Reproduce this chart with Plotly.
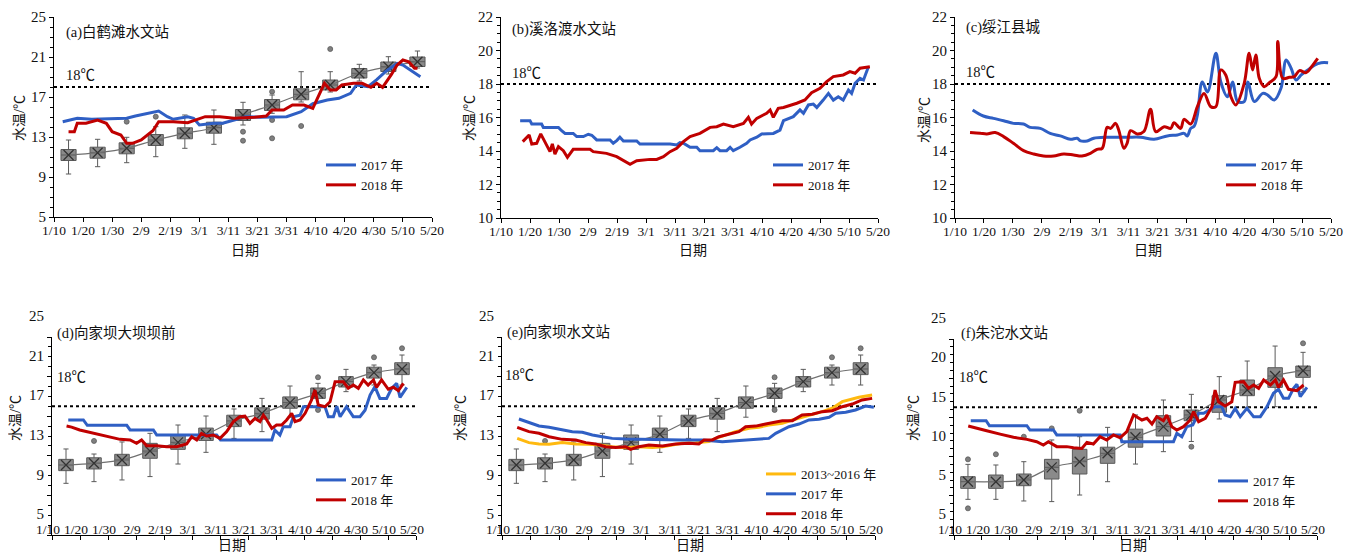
import plotly.graph_objects as go

# The page places the figure 8 px from the window's top-left corner, so the figure is
# 8 px smaller than the window and all positions below are given in window pixels.
OFF = 8
W, H = 1359 - OFF, 552 - OFF
FONT = "Liberation Serif, 'Noto Sans CJK SC', serif"
BLUE, RED, ORANGE = "#2F5FC4", "#C00000", "#FFB90F"


def px(x):
    return (x - OFF) / W


def py(y):
    return 1 - (y - OFF) / H


TICK_DAYS = list(range(0, 131, 10))
TICK_TEXT = ["1/10", "1/20", "1/30", "2/9", "2/19", "3/1", "3/11", "3/21",
             "3/31", "4/10", "4/20", "4/30", "5/10", "5/20"]
BOX_DAYS = list(range(5, 126, 10))   # days after 1/10

# ---------------- (a) 白鹤滩水文站 ----------------
a_2017_day = [3, 8, 13, 19, 25, 28, 32, 36, 39, 41, 46, 48, 50, 55, 58, 62, 66, 71, 75, 80,
              85, 89, 94, 98, 102, 104, 108, 111, 114, 118, 120, 124, 126]
a_2017_val = [14.53, 14.87, 14.77, 14.8, 14.87, 15.1, 15.37, 15.6, 15.03, 14.77, 15.03, 14.87,
              14.2, 14.37, 14.37, 14.7, 15.03, 14.97, 15.03, 15.03, 15.53, 16.33, 16.7, 16.87,
              17.37, 18.2, 18.03, 18.73, 19.53, 20.37, 20.2, 19.43, 19.03]
a_2018_day = [5, 7, 8, 11, 15, 18, 20, 23, 25, 27, 30, 32, 34, 36, 41, 46, 49, 52, 57, 62, 69,
              73, 75, 79, 82, 86, 89, 91, 93, 95, 97, 99, 103, 106, 109, 111, 113, 116, 118,
              120, 122, 124, 125]
a_2018_val = [13.53, 13.53, 14.37, 14.37, 14.7, 14.37, 13.53, 13.2, 12.37, 12.37, 12.7, 13.2,
              13.63, 14.53, 14.53, 14.43, 14.7, 15.03, 15.03, 14.87, 14.97, 15.1, 15.7, 15.7,
              16.2, 16.2, 15.87, 17.2, 18.37, 17.7, 17.7, 18.2, 18.37, 18.37, 17.97, 18.37,
              17.97, 19.23, 20.2, 20.7, 20.53, 19.87, 19.87]
a_mean = [11.2, 11.43, 11.87, 12.7, 13.37, 13.93, 15.2, 16.2, 17.27, 18.2, 19.37, 20.03, 20.53]
a_q1 = [10.65, 10.88, 11.32, 12.15, 12.82, 13.38, 14.65, 15.65, 16.72, 17.7, 18.9, 19.55, 20.05]
a_q3 = [11.75, 11.98, 12.42, 13.25, 13.92, 14.48, 15.75, 16.75, 17.82, 18.7, 19.85, 20.5, 21.0]
a_hi = [12.7, 12.77, 12.97, 14.03, 15.2, 15.7, 16.47, 17.2, 19.53, 19.53, 20.27, 21.03, 21.6]
a_lo = [9.3, 10.03, 10.43, 11.03, 11.87, 12.27, 14.2, 15.37, 16.5, 17.5, 18.6, 19.3, 19.9]
a_out_day = [25, 35, 65, 65, 75, 75, 75, 85, 95]
a_out_val = [14.53, 15.03, 13.53, 12.63, 17.53, 14.7, 12.87, 14.1, 21.8]

# ---------------- (b) 溪洛渡水文站 ----------------
b_2017_day = [6.6, 10, 10.6, 14, 14.6, 19.8, 20.9, 22.1, 24.9, 26.1, 28.4, 30.1, 31.3, 33,
              37.6, 38.7, 39.9, 41, 42.2, 46.8, 47.9, 58.3, 60.6, 61.7, 62.9, 65.2, 67.5, 68.6,
              73.2, 74.4, 75.5, 77.8, 79, 80.1, 82.4, 84.7, 85.9, 88.2, 89.9, 93.9, 96.2, 97.4,
              100.8, 103.1, 104.3, 106, 107.7, 108.9, 111.1, 112.9, 114.6, 116.3, 118, 119.8,
              120.9, 122.1, 123.8, 125, 126.7]
b_2017_val = [15.81, 15.81, 15.61, 15.61, 15.41, 15.41, 15.21, 15.05, 15.05, 14.86, 14.86,
              15.0, 14.94, 14.66, 14.66, 14.46, 14.62, 14.82, 14.6, 14.6, 14.42, 14.42, 14.36,
              14.5, 14.46, 14.22, 14.22, 14.02, 14.02, 14.2, 14.02, 14.02, 14.22, 14.02, 14.22,
              14.46, 14.66, 14.82, 15.02, 15.05, 15.25, 15.81, 16.05, 16.45, 16.25, 16.75, 16.8,
              16.6, 17.04, 17.44, 17.04, 17.24, 17.04, 17.64, 17.44, 18.04, 18.34, 18.24, 19.03]
b_2018_day = [7.5, 9.7, 10.6, 12.3, 13.7, 15.2, 16.9, 17.7, 18.6, 19.8, 21.5, 22.9, 24.9, 30.7,
              31.8, 36.4, 39.9, 44.5, 46.8, 51.4, 53.7, 56, 58.3, 60.6, 62.9, 65.2, 68.6, 72.1,
              74.4, 76.7, 80.1, 83.6, 85.3, 86.4, 88.2, 91.6, 92.8, 93.9, 95.6, 97.4, 102, 104.8,
              107.1, 110, 112.3, 114.6, 118, 120.3, 122.1, 123.8, 127.2]
b_2018_val = [14.56, 14.96, 14.42, 14.46, 15.02, 14.56, 13.96, 14.42, 13.82, 14.26, 14.02,
              13.62, 14.1, 14.1, 13.96, 13.86, 13.66, 13.2, 13.42, 13.5, 13.5, 13.66, 13.96,
              14.16, 14.56, 14.86, 15.05, 15.41, 15.45, 15.61, 15.45, 15.65, 16.01, 15.61, 15.95,
              16.25, 16.45, 16.01, 16.55, 16.6, 16.85, 17.05, 17.48, 17.74, 18.14, 18.44, 18.54,
              18.74, 18.64, 18.94, 19.03]

# ---------------- (c) 绥江县城 ----------------
c_2017_day = [6.1, 9.8, 13.3, 16.8, 20.2, 23.7, 26, 29.5, 32.9, 36.4, 39.9, 42.2, 43.4, 45.7,
              48, 52.6, 59.5, 64.2, 68.8, 73.4, 76.9, 79.2, 80.3, 81.5, 82.7, 83.8, 85.5, 87.3,
              90.2, 91.9, 94.2, 96, 97.7, 100, 101.2, 103.5, 106.4, 108.1, 110.4, 112.7, 114.5,
              116.2, 117.9, 119.7, 122, 124.3, 126.6, 129]
c_2017_val = [16.45, 16.09, 15.95, 15.81, 15.65, 15.61, 15.41, 15.35, 15.05, 14.9, 14.7, 14.76,
              14.6, 14.6, 14.76, 14.82, 14.82, 14.82, 14.7, 14.9, 14.96, 15.05, 14.9, 15.35,
              15.49, 16.15, 18.12, 17.52, 19.83, 18.12, 17.24, 18.12, 16.95, 16.95, 18.12, 16.95,
              17.44, 17.34, 17.04, 17.74, 19.43, 18.94, 18.24, 18.54, 18.84, 19.13, 19.27, 19.27]
c_2018_day = [5.2, 8.7, 11, 13.9, 16.8, 20.2, 23.7, 27.2, 30.6, 34.1, 37.6, 41, 43.9, 46.8,
              49.1, 50.9, 52.6, 53.8, 55.5, 56.6, 58.4, 59.5, 60.7, 63, 65.3, 67.6, 69.4, 72.3,
              74.6, 75.7, 78, 79.2, 81.5, 83.8, 86.1, 88.4, 90.2, 91.9, 93.6, 95.4, 97.1, 100,
              101.7, 102.9, 104, 105.2, 106.9, 108.7, 111, 111.6, 113.3, 115.6, 117.3, 119.1,
              121.4, 123.7, 125.4]
c_2018_val = [15.1, 15.06, 15.02, 15.1, 14.86, 14.46, 14.02, 13.82, 13.7, 13.7, 13.82, 13.76,
              13.7, 13.86, 14.1, 14.16, 15.41, 15.35, 15.65, 15.25, 14.16, 14.46, 15.21, 15.02,
              15.16, 16.49, 15.15, 15.45, 15.35, 15.69, 15.35, 15.89, 15.61, 16.65, 17.44, 16.65,
              16.65, 18.84, 18.54, 17.24, 16.75, 18.04, 19.83, 18.84, 19.73, 18.34, 17.84, 18.08,
              18.44, 20.53, 18.34, 18.4, 18.44, 18.8, 18.68, 19.13, 19.53]

# ---------------- (d) 向家坝大坝坝前 ----------------
d_2017_day = [5.8, 11.2, 12.6, 26.7, 27.9, 36.2, 37.4, 58.8, 60.2, 78.5, 79.6, 81.4, 82.6, 85,
              86.2, 88.6, 89.8, 97.5, 98.7, 100.5, 101.7, 102.9, 105.2, 107.6, 110, 111.8, 113.6,
              115.3, 117.1, 119.5, 121.3, 123.1, 124.3, 126.7]
d_2017_val = [16.62, 16.62, 16.08, 16.08, 15.61, 15.61, 15.1, 15.1, 14.6, 14.6, 15.61, 15.1,
              15.94, 15.94, 16.95, 17.1, 17.96, 17.96, 16.95, 16.95, 18.0, 16.95, 17.96, 16.95,
              16.95, 17.6, 19.14, 19.98, 18.8, 18.8, 19.82, 20.32, 18.91, 19.92]
d_2018_day = [5.2, 7, 9.9, 13.6, 17.1, 20.7, 24.3, 27.9, 30.2, 32, 33.8, 37.4, 41, 44.5, 48.1,
              49.9, 51.7, 53.4, 55.2, 57.6, 60, 62.4, 64.8, 67.1, 68.9, 70.7, 72.5, 74.3, 75.5,
              76.7, 78.5, 80.2, 82, 83.8, 85.6, 86.8, 88.6, 90.4, 92.7, 93.9, 95.1, 97.5, 99.3,
              101.1, 104, 105.8, 107.6, 109.4, 111.2, 112.9, 114.8, 115.9, 117.7, 120.1, 121.9,
              123.7, 125.5]
d_2018_val = [16.01, 15.9, 15.61, 15.37, 15.1, 14.87, 14.66, 14.6, 14.26, 14.6, 14.02, 14.02,
              13.92, 13.92, 14.2, 14.93, 14.6, 15.27, 15.0, 15.1, 14.76, 15.44, 16.45, 16.95,
              17.0, 16.28, 16.78, 16.45, 17.11, 16.62, 15.77, 16.11, 16.11, 16.62, 17.29, 16.45,
              16.62, 17.29, 18.64, 19.65, 18.13, 17.96, 18.46, 20.49, 20.49, 19.82, 20.15, 19.82,
              20.66, 20.15, 20.66, 19.92, 20.66, 19.72, 19.92, 19.58, 20.32]
# historical boxes at 向家坝 (shared by d and e)
x_mean = [12.07, 12.24, 12.58, 13.48, 14.36, 15.17, 16.52, 17.29, 18.37, 19.31, 20.49, 21.4, 21.77]
x_q1 = [11.5, 11.67, 12.0, 12.75, 13.65, 14.55, 15.95, 16.7, 17.8, 18.8, 19.95, 20.85, 21.2]
x_q3 = [12.64, 12.8, 13.15, 14.26, 15.1, 15.8, 17.1, 17.85, 18.95, 19.85, 21.0, 21.95, 22.4]
x_hi = [13.69, 13.18, 14.4, 15.27, 16.11, 17.02, 17.73, 18.8, 20.05, 20.32, 21.73, 22.17, 23.18]
x_lo = [10.22, 10.39, 10.56, 10.9, 12.17, 13.35, 14.76, 15.44, 16.9, 17.9, 19.48, 20.15, 20.15]
x_out_day = [15, 95, 95, 115, 125]
x_out_val = [14.5, 20.93, 17.63, 22.95, 23.86]

# ---------------- (e) 向家坝水文站 ----------------
e_hist_day = [5.3, 9.4, 12.9, 16.4, 21, 25.7, 30.3, 33.8, 38.4, 43.1, 47.7, 52.4, 55.9, 59.3,
              62.8, 67.5, 72.1, 74.5, 77.9, 81.4, 86.1, 89.5, 93, 97.7, 101.2, 104.6, 108.1,
              111.6, 115.1, 118.6, 124.4, 129]
e_hist_val = [14.76, 14.33, 14.2, 14.17, 14.33, 14.2, 14.17, 14.1, 13.92, 13.82, 13.92, 13.85,
              13.92, 14.1, 14.26, 14.33, 14.43, 14.76, 15.1, 15.44, 15.77, 15.88, 16.11, 16.28,
              16.62, 16.89, 17.12, 17.46, 17.8, 18.47, 18.91, 19.14]
e_2017_day = [5.9, 9.4, 12.9, 16.4, 19.9, 24.5, 28, 31.5, 35, 38.4, 43.1, 48.9, 53.5, 62.8,
              69.8, 74.5, 76.8, 80.3, 86.1, 90.7, 93, 95.4, 97.7, 100, 103.5, 107, 110.5, 114,
              116.3, 119.8, 123.2, 126.7, 129.6]
e_2017_val = [16.72, 16.35, 16.01, 15.88, 15.67, 15.44, 15.37, 15.1, 14.93, 14.76, 14.7, 14.66,
              14.6, 14.6, 14.6, 14.53, 14.43, 14.5, 14.6, 14.66, 14.76, 15.27, 15.6, 15.94,
              16.21, 16.62, 16.7, 16.89, 17.29, 17.4, 17.63, 18.03, 17.9]
e_2018_day = [5.3, 9.4, 12.9, 16.4, 21, 25.7, 29.2, 32.6, 36.1, 39.6, 43.1, 44.8, 47.7, 51.2,
              55.9, 60.5, 65.2, 68.6, 70.4, 73.3, 75.6, 79.1, 82.6, 84.9, 88.4, 91.9, 95.4, 97.7,
              101.2, 104.6, 108.1, 111.6, 115.1, 118.6, 122.1, 125.5, 129]
e_2018_val = [15.88, 15.44, 15.27, 14.93, 14.66, 14.6, 14.33, 14.2, 13.92, 13.85, 13.92, 13.65,
              13.92, 14.1, 14.0, 14.2, 14.26, 14.2, 14.6, 14.6, 14.93, 15.2, 15.44, 15.94, 16.0,
              16.21, 16.45, 16.55, 16.55, 17.12, 17.2, 17.46, 17.56, 17.96, 18.23, 18.64, 18.8]

# ---------------- (f) 朱沱水文站 ----------------
f_2017_day = [6, 11.5, 12.7, 26.1, 27.2, 35.6, 36.8, 59.5, 60.1, 78.6, 79.8, 81.6, 83.4, 85.5,
              87.6, 89.4, 93.5, 95.9, 97.1, 98.9, 100.7, 102.5, 104.9, 107.3, 109.7, 112.1,
              114.4, 116.2, 118, 119.8, 121.6, 122.8, 124, 126.4]
f_2017_val = [14.58, 14.58, 13.94, 13.94, 13.39, 13.39, 12.76, 12.76, 11.9, 11.9, 12.97, 12.54,
              13.82, 14.03, 15.52, 15.52, 16.37, 16.37, 15.31, 15.09, 16.15, 15.09, 16.15, 15.09,
              15.09, 16.37, 18.07, 18.58, 17.43, 17.43, 18.71, 19.22, 17.64, 18.83]
f_2018_day = [5.1, 8.1, 11.7, 16.5, 21.3, 26.1, 29.6, 32, 33.8, 36.8, 40.4, 42.8, 45.8, 47.6,
              49.9, 52.3, 54.7, 57.1, 59.5, 61.9, 64.3, 67.3, 69.1, 70.9, 72.6, 75, 76.2, 78,
              79.8, 82.2, 84.6, 85.8, 87.6, 90, 92.4, 93.5, 94.7, 97.1, 99.5, 100.7, 103.7, 105.5,
              107.3, 109.1, 110.9, 113.3, 115.1, 116.2, 118, 119.8, 122.8, 125.2]
f_2018_val = [13.9, 13.6, 13.3, 12.87, 12.46, 12.2, 11.9, 11.48, 11.9, 11.27, 11.27, 11.14,
              11.05, 11.82, 11.6, 12.54, 12.12, 12.76, 12.41, 13.18, 15.31, 14.67, 14.88, 14.16,
              15.09, 14.58, 15.31, 13.82, 13.39, 13.82, 14.67, 15.73, 14.46, 14.88, 16.37, 18.49,
              17.0, 16.46, 17.0, 19.47, 19.56, 18.71, 19.13, 18.71, 19.77, 19.13, 19.77, 18.83,
              19.77, 18.58, 18.41, 19.13]
f_mean = [6.8, 6.8, 7.02, 8.63, 9.35, 10.42, 12.46, 13.82, 15.31, 17.22, 18.49, 20.28, 20.96]
f_q1 = [5.95, 5.95, 6.29, 7.14, 7.78, 9.14, 11.2, 12.63, 14.58, 15.65, 17.77, 18.83, 20.11]
f_q3 = [7.44, 7.65, 7.78, 9.65, 10.93, 11.2, 13.5, 15.22, 15.94, 17.77, 19.77, 21.34, 21.55]
f_hi = [9.01, 8.93, 9.35, 12.12, 12.54, 13.73, 15.31, 17.22, 17.94, 20.2, 22.19, 24.1, 23.3]
f_lo = [4.55, 4.55, 4.34, 4.26, 5.1, 6.8, 9.05, 10.63, 11.93, 14.8, 16.28, 16.37, 18.28]
f_out_day = [5, 5, 15, 25, 35, 45, 85, 125]
f_out_val = [9.65, 3.4, 10.3, 12.54, 13.6, 15.85, 11.26, 24.45]

THRESH = [18, 18, 18, 18, 18, 16.3]   # dotted "18℃" line, as drawn in each panel

# ---------------- layout geometry (window pixels) ----------------
panels = [
    dict(t="(a)白鹤滩水文站", x0=54, x1=432, yt=17, yb=217, yr=[5, 25],
         tpos=(64, 33), l18=(64, 75), yt_pos=(20, 118), xt_pos=(245, 250), leg=(321, 150)),
    dict(t="(b)溪洛渡水文站", x0=501, x1=878, yt=17, yb=218, yr=[10, 22],
         tpos=(510, 30), l18=(510, 73), yt_pos=(470, 118), xt_pos=(693, 250), leg=(768, 150)),
    dict(t="(c)绥江县城", x0=955, x1=1331, yt=17, yb=218, yr=[10, 22],
         tpos=(964, 28), l18=(964, 72), yt_pos=(925, 120), xt_pos=(1148, 250), leg=(1221, 150)),
    dict(t="(d)向家坝大坝坝前", x0=52, x1=416, yt=337, yb=535, yr=[5, 25],
         tpos=(55, 333), l18=(55, 377), yt_pos=(15, 418), xt_pos=(232, 545), leg=(311, 465)),
    dict(t="(e)向家坝水文站", x0=502, x1=875, yt=337, yb=535, yr=[5, 25],
         tpos=(505, 332), l18=(503, 375), yt_pos=(460, 418), xt_pos=(690, 545), leg=(761, 459)),
    dict(t="(f)朱沱水文站", x0=954, x1=1317, yt=339, yb=535, yr=[0, 25],
         tpos=(959, 333), l18=(957, 377), yt_pos=(913, 418), xt_pos=(1133, 545), leg=(1213, 466)),
]

series = [
    [("2017 年", BLUE, a_2017_day, a_2017_val, "linear"), ("2018 年", RED, a_2018_day, a_2018_val, "linear")],
    [("2017 年", BLUE, b_2017_day, b_2017_val, "linear"), ("2018 年", RED, b_2018_day, b_2018_val, "linear")],
    [("2017 年", BLUE, c_2017_day, c_2017_val, "spline"), ("2018 年", RED, c_2018_day, c_2018_val, "spline")],
    [("2017 年", BLUE, d_2017_day, d_2017_val, "linear"), ("2018 年", RED, d_2018_day, d_2018_val, "linear")],
    [("2013~2016 年", ORANGE, e_hist_day, e_hist_val, "linear"), ("2017 年", BLUE, e_2017_day, e_2017_val, "linear"),
     ("2018 年", RED, e_2018_day, e_2018_val, "linear")],
    [("2017 年", BLUE, f_2017_day, f_2017_val, "linear"), ("2018 年", RED, f_2018_day, f_2018_val, "linear")],
]
boxes = [
    (a_mean, a_q1, a_q3, a_lo, a_hi, a_out_day, a_out_val),
    None,
    None,
    (x_mean, x_q1, x_q3, x_lo, x_hi, x_out_day, x_out_val),
    (x_mean, x_q1, x_q3, x_lo, x_hi, x_out_day, x_out_val),
    (f_mean, f_q1, f_q3, f_lo, f_hi, f_out_day, f_out_val),
]

fig = go.Figure()
annotations, shapes = [], []
BOX_FILL, BOX_LINE, MEAN_LINE = "#8a8a8a", "#5a5a5a", "#707070"

for i, p in enumerate(panels):
    n = "" if i == 0 else str(i + 1)
    xa, ya = "x" + n, "y" + n
    leg = "legend" + n
    bottom = i >= 3

    if boxes[i] is not None:
        mean, q1, q3, lo, hi, od, ov = boxes[i]
        fig.add_trace(go.Scatter(x=BOX_DAYS, y=mean, mode="lines", xaxis=xa, yaxis=ya,
                                 line=dict(color=MEAN_LINE, width=1.2, shape="spline"),
                                 showlegend=False, hoverinfo="skip"))
        fig.add_trace(go.Box(x=BOX_DAYS, q1=q1, median=mean, q3=q3, lowerfence=lo, upperfence=hi,
                             width=5.2, whiskerwidth=0.35, fillcolor=BOX_FILL,
                             line=dict(color=BOX_LINE, width=1), boxpoints=False,
                             xaxis=xa, yaxis=ya, showlegend=False))
        fig.add_trace(go.Scatter(x=BOX_DAYS, y=mean, mode="markers", xaxis=xa, yaxis=ya,
                                 marker=dict(symbol="x-thin", size=10, color="#333333",
                                             line=dict(color="#333333", width=1.3)),
                                 showlegend=False, hoverinfo="skip"))
        fig.add_trace(go.Scatter(x=od, y=ov, mode="markers", xaxis=xa, yaxis=ya,
                                 marker=dict(symbol="circle", size=5, color="#7f7f7f",
                                             line=dict(color="#5a5a5a", width=0.8)),
                                 showlegend=False, hoverinfo="skip"))

    for name, col, xs, ys, shp in series[i]:
        fig.add_trace(go.Scatter(x=xs, y=ys, mode="lines", name=name, xaxis=xa, yaxis=ya,
                                 line=dict(color=col, width=3, shape=shp), legend=leg))

    xdom = [px(p["x0"]), px(p["x1"])]
    ydom = [py(p["yb"]), py(p["yt"])]
    xaxis = dict(domain=xdom, anchor=ya, range=[0, 130], tickmode="array", tickvals=TICK_DAYS,
                 ticktext=TICK_TEXT, showline=True, linecolor="black", linewidth=1,
                 ticks="outside", ticklen=4, tickcolor="black", showgrid=False, zeroline=False,
                 automargin=False, tickfont=dict(size=13.5, family=FONT, color="#111"))
    if bottom:
        xaxis.update(ticklabelshift=-4, ticklabelstandoff=-22)
    else:
        xaxis.update(ticklabelstandoff=-3)
    yaxis = dict(domain=ydom, anchor=xa, range=p["yr"], showline=True, linecolor="black",
                 linewidth=1, ticks="outside", ticklen=4, tickcolor="black", showgrid=False,
                 zeroline=False, automargin=False,
                 tickfont=dict(size=15, family=FONT, color="#111"))
    if i == 0 or i in (3, 4):
        yaxis.update(tickmode="linear", tick0=5, dtick=4,
                     minor=dict(tickmode="linear", tick0=5, dtick=1, ticks="outside", ticklen=3,
                                tickcolor="black", showgrid=False))
    elif i in (1, 2):
        yaxis.update(tickmode="linear", tick0=10, dtick=2,
                     minor=dict(tickmode="linear", tick0=10, dtick=0.5, ticks="outside",
                                ticklen=3, tickcolor="black", showgrid=False))
    else:
        yaxis.update(tickmode="array", tickvals=[0, 5, 10, 15, 20, 25],
                     ticktext=["5", "5", "10", "15", "20", "25"],
                     minor=dict(tickmode="linear", tick0=0, dtick=1, ticks="outside", ticklen=3,
                                tickcolor="black", showgrid=False))
    if bottom:
        yaxis.update(ticklabelshift=-21)
    fig.update_layout(**{"xaxis" + n: xaxis, "yaxis" + n: yaxis})

    lx, ly = p["leg"]
    fig.update_layout(**{leg: dict(x=px(lx), y=py(ly), xanchor="left", yanchor="top",
                                   bgcolor="rgba(0,0,0,0)", borderwidth=0, tracegroupgap=0,
                                   font=dict(size=13, family=FONT, color="#111"),
                                   itemwidth=30)})

    shapes.append(dict(type="line", xref=xa + " domain", yref=ya, x0=0, x1=1,
                       y0=THRESH[i], y1=THRESH[i], layer="below",
                       line=dict(color="black", width=2, dash="dot")))

    annotations.append(dict(text=p["t"], x=px(p["tpos"][0]), y=py(p["tpos"][1]),
                            xref="paper", yref="paper", xanchor="left", yanchor="middle",
                            showarrow=False, font=dict(size=14.5, family=FONT, color="#111")))
    annotations.append(dict(text="18℃", x=px(p["l18"][0]), y=py(p["l18"][1]),
                            xref="paper", yref="paper", xanchor="left", yanchor="middle",
                            showarrow=False, font=dict(size=14.5, family=FONT, color="#111")))
    annotations.append(dict(text="水温/℃", x=px(p["yt_pos"][0]), y=py(p["yt_pos"][1]),
                            xref="paper", yref="paper", xanchor="center", yanchor="middle",
                            textangle=-90, showarrow=False,
                            font=dict(size=14, family=FONT, color="#111")))
    annotations.append(dict(text="日期", x=px(p["xt_pos"][0]), y=py(p["xt_pos"][1]),
                            xref="paper", yref="paper", xanchor="center", yanchor="middle",
                            showarrow=False, font=dict(size=14, family=FONT, color="#111")))

fig.update_layout(width=W, height=H, margin=dict(l=0, r=0, t=0, b=0, autoexpand=False),
                  paper_bgcolor="white", plot_bgcolor="white",
                  font=dict(family=FONT, color="#111"),
                  annotations=annotations, shapes=shapes, showlegend=True)

fig.write_html("out.html")
